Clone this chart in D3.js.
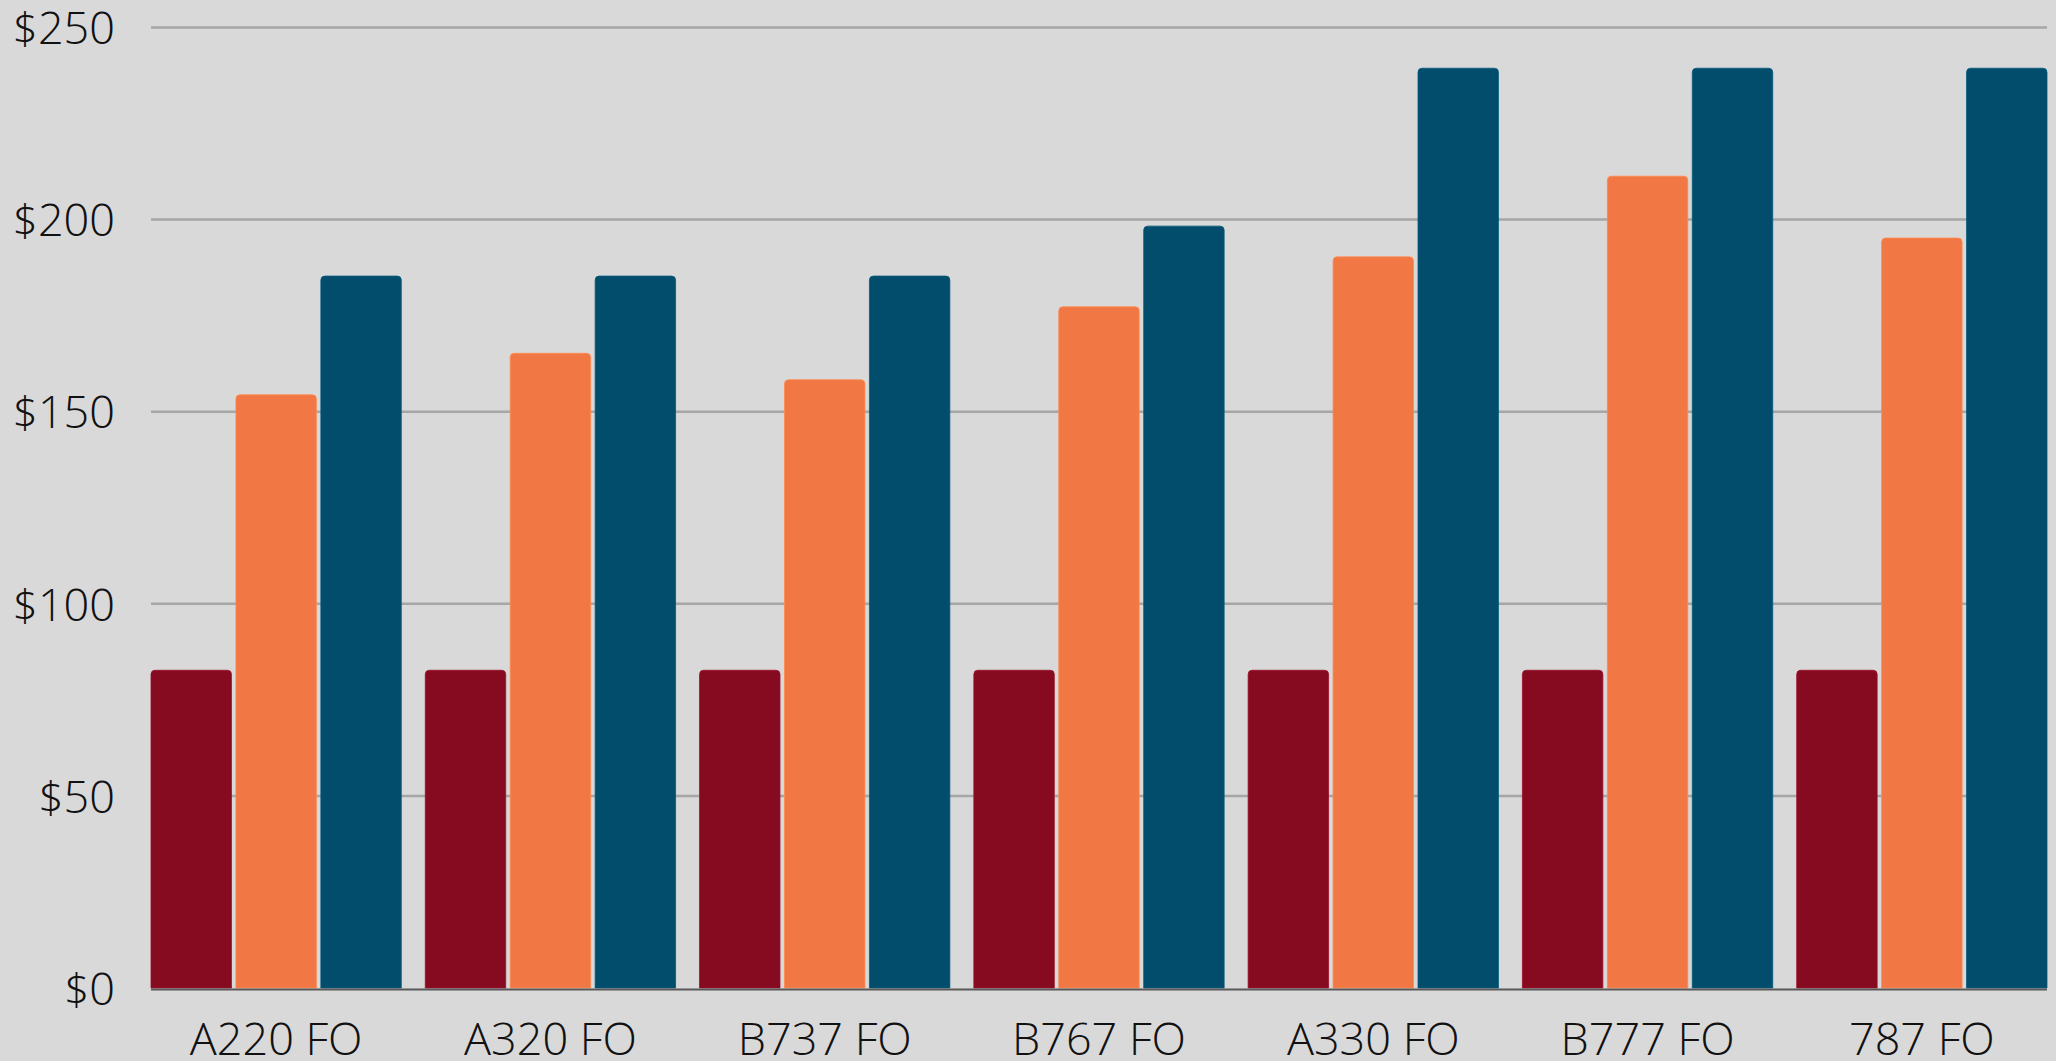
<!DOCTYPE html>
<html>
<head>
<meta charset="utf-8">
<script src="https://cdn.jsdelivr.net/npm/d3@7"></script>
<style>
  html, body { margin: 0; padding: 0; background: #d9d9d9; }
  #chart { width: 2056px; height: 1061px; }
  text { font-family: "Open Sans Light", "Open Sans", "Noto Sans", sans-serif; font-weight: 300; }
</style>
</head>
<body>
<div id="chart"></div>
<script>
// categories and series (values in $)
const categories = ["A220 FO", "A320 FO", "B737 FO", "B767 FO", "A330 FO", "B777 FO", "787 FO"];
const seriesNames = ["s1", "s2", "s3"];
const series1 = [82.7, 82.7, 82.7, 82.7, 82.7, 82.7, 82.7];
const series2 = [154.4, 165.2, 158.3, 177.3, 190.3, 211.3, 195.2];
const series3 = [185.3, 185.3, 185.3, 198.3, 239.4, 239.4, 239.4];
const yTicks = [0, 50, 100, 150, 200, 250];
const colors = ["#860b21", "#f17744", "#024d6b"];

const rows = categories.map((c, i) => ({ cat: c, s1: series1[i], s2: series2[i], s3: series3[i] }));

const containerWidth = 2056;
const containerHeight = 1061;
const margin = { top: 27.5, right: 9, bottom: 73, left: 151 };
const width = containerWidth - margin.left - margin.right;
const height = containerHeight - margin.top - margin.bottom;

const svg = d3.select("#chart")
  .append("svg")
  .attr("width", containerWidth)
  .attr("height", containerHeight)
  .append("g")
  .attr("transform", `translate(${margin.left},${margin.top})`);

const x0 = d3.scaleBand()
  .domain(categories)
  .range([0, width])
  .paddingInner(0.0875)
  .paddingOuter(0);

const x1 = d3.scaleBand()
  .domain(seriesNames)
  .range([0, x0.bandwidth()])
  .paddingInner(0.053);

const y = d3.scaleLinear()
  .domain([0, 250])
  .range([height, 0]);

const color = d3.scaleOrdinal().domain(seriesNames).range(colors);

// gridlines
svg.selectAll("line.grid").data(yTicks.filter(d => d > 0)).enter()
  .append("line")
  .attr("class", "grid")
  .attr("x1", 0)
  .attr("x2", width)
  .attr("y1", d => y(d))
  .attr("y2", d => y(d))
  .attr("stroke", "#a6a6a6")
  .attr("stroke-width", 2.5);

// y axis labels
const yAxis = svg.append("g")
  .call(d3.axisLeft(y).tickValues(yTicks).tickSize(0).tickPadding(36).tickFormat(d => "$" + d));
yAxis.select(".domain").remove();
yAxis.selectAll("text")
  .attr("dy", "0.36em")
  .style("font-size", "45px")
  .style("fill", "#111");

// bars with rounded top corners
const r = 4;
function barPath(bx, by, bw, bh) {
  const rr = Math.min(r, bh);
  return `M${bx},${by + bh}V${by + rr}Q${bx},${by} ${bx + rr},${by}H${bx + bw - rr}Q${bx + bw},${by} ${bx + bw},${by + rr}V${by + bh}Z`;
}

const groups = svg.selectAll(".group")
  .data(rows)
  .enter().append("g")
  .attr("class", "group")
  .attr("transform", d => `translate(${x0(d.cat)},0)`);

groups.selectAll("path")
  .data(d => seriesNames.map(k => ({ key: k, value: d[k] })))
  .enter().append("path")
  .attr("d", d => barPath(x1(d.key), y(d.value), x1.bandwidth(), y(0) - y(d.value)))
  .attr("fill", d => color(d.key))
  .attr("stroke", d => d3.color(color(d.key)).brighter(0.4))
  .attr("stroke-width", 0.8);

// baseline
svg.append("line")
  .attr("x1", 0)
  .attr("x2", width)
  .attr("y1", y(0) + 1.5)
  .attr("y2", y(0) + 1.5)
  .attr("stroke", "#595959")
  .attr("stroke-width", 2);

// x axis labels
const xAxis = svg.append("g")
  .attr("transform", `translate(0,${height})`)
  .call(d3.axisBottom(x0).tickSize(0).tickPadding(35));
xAxis.select(".domain").remove();
xAxis.selectAll("text")
  .style("font-size", "45px")
  .style("fill", "#111");
</script>
</body>
</html>
